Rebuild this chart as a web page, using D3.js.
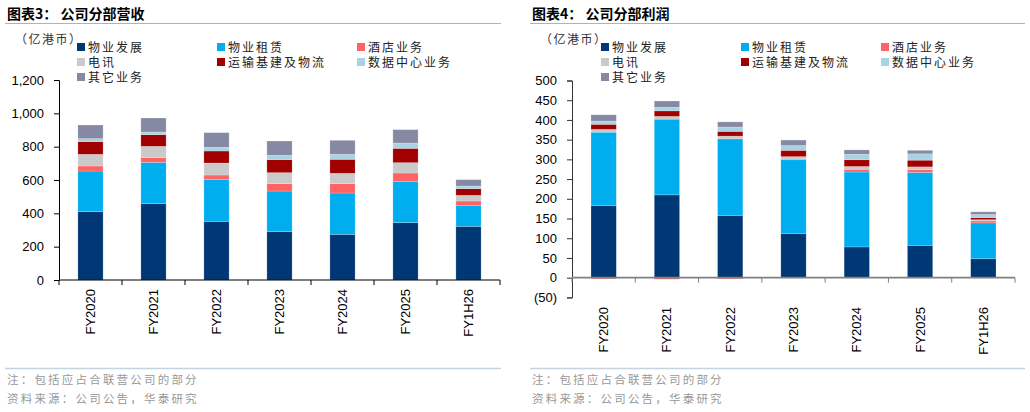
<!DOCTYPE html>
<html>
<head>
<meta charset="utf-8">
<script src="https://cdn.jsdelivr.net/npm/d3@7"></script>
<style>
  body { margin: 0; background: #fff; }
  svg { display: block; }
  .cn { font-family: "Noto Sans CJK SC", sans-serif; }
  .num { font-family: "Liberation Sans", Arial, sans-serif; }
</style>
</head>
<body>
<div id="chart"></div>
<script>
var categories = ["FY2020", "FY2021", "FY2022", "FY2023", "FY2024", "FY2025", "FY1H26"];
var seriesNames = ["物业发展", "物业租赁", "酒店业务", "电讯", "运输基建及物流", "数据中心业务", "其它业务"];
var seriesColors = ["#003876", "#00aeef", "#ff6464", "#cacaca", "#a00000", "#a9d3e3", "#8589a3"];

// 营收 (亿港币)
var revDev = [410, 458, 352, 290, 274, 344, 322];
var revRental = [244, 248, 250, 244, 248, 246, 124];
var revHotel = [30, 28, 28, 44, 56, 52, 28];
var revTelecom = [70, 68, 72, 66, 62, 62, 34];
var revTransport = [76, 70, 72, 78, 84, 86, 40];
var revDC = [18, 16, 22, 26, 30, 32, 16];
var revOther = [82, 84, 88, 86, 84, 80, 38];
var revTicks = [0, 200, 400, 600, 800, 1000, 1200];

// 利润 (亿港币)
var profDev = [183, 210, 158, 112, 78, 82, 48];
var profRental = [186, 192, 194, 187, 190, 185, 91];
var profHotel = [-3, -4, -3, 2, 7, 7, 5];
var profTelecom = [7, 7, 7, 6, 7, 7, 3];
var profTransport = [13, 14, 12, 16, 17, 17, 5];
var profDC = [8, 9, 11, 12, 14, 16, 8];
var profOther = [16, 16, 13, 14, 11, 9, 7];
var profTicks = [-50, 0, 50, 100, 150, 200, 250, 300, 350, 400, 450, 500];

var W = 1030, H = 412;
var svg = d3.select("#chart").append("svg")
	.attr("width", W)
	.attr("height", H);

function toRows(cols) {
	return categories.map(function(c, i) {
		var row = { cat: c };
		seriesNames.forEach(function(s, k) { row[s] = cols[k][i]; });
		return row;
	});
}

var drawChart = function(opt) {
	var g = svg.append("g").attr("transform", "translate(" + opt.ox + ",0)");

	/*---------------------------TITLE--------------------------*/
	g.append("text")
		.attr("class", "cn")
		.attr("x", opt.titleX)
		.attr("y", 19)
		.attr("font-size", 14)
		.attr("font-weight", "bold")
		.attr("fill", "#000")
		.text(opt.title);

	g.append("line")
		.attr("x1", opt.lineX1).attr("x2", opt.lineX2)
		.attr("y1", 23.5).attr("y2", 23.5)
		.attr("stroke", "#a3b5c9")
		.attr("stroke-width", 1);

	/*---------------------------UNIT + LEGEND--------------------------*/
	g.append("text")
		.attr("class", "cn")
		.attr("x", opt.unitX)
		.attr("y", 44)
		.attr("font-size", 12)
		.attr("letter-spacing", 1.5)
		.attr("fill", "#333")
		.text("（亿港币）");

	var legend = g.append("g");
	seriesNames.forEach(function(s, k) {
		var col = k % 3, row = Math.floor(k / 3);
		var lx = opt.legX + col * 140, ly = 47 + row * 15;
		legend.append("rect")
			.attr("x", lx).attr("y", ly - 4)
			.attr("width", 8).attr("height", 8)
			.attr("fill", seriesColors[k]);
		legend.append("text")
			.attr("class", "cn")
			.attr("x", lx + 11).attr("y", ly + 4.5)
			.attr("font-size", 12)
			.attr("letter-spacing", 2)
			.attr("fill", "#222")
			.text(s);
	});

	/*---------------------------SCALES--------------------------*/
	var x = d3.scaleBand()
		.domain(categories)
		.range([opt.x0, opt.x1])
		.paddingInner(0.6)
		.paddingOuter(0.3);

	var y = d3.scaleLinear()
		.domain(opt.domain)
		.range([opt.yBottom, opt.yTop]);

	var rows = toRows(opt.cols);
	var stack = d3.stack()
		.keys(seriesNames)
		.offset(d3.stackOffsetDiverging);
	var layers = stack(rows);

	/*---------------------------BARS--------------------------*/
	g.selectAll(".layer").data(layers).enter()
		.append("g")
		.attr("fill", function(d, i) { return seriesColors[i]; })
		.selectAll("rect")
		.data(function(d) { return d; })
		.enter()
		.append("rect")
		.attr("x", function(d) { return x(d.data.cat); })
		.attr("width", x.bandwidth())
		.attr("y", function(d) { return y(Math.max(d[0], d[1])); })
		.attr("height", function(d) { return Math.abs(y(d[0]) - y(d[1])); })
		.attr("stroke", "#fff")
		.attr("stroke-opacity", 0.35)
		.attr("stroke-width", 0.6);

	/*---------------------------Y AXIS--------------------------*/
	var yAxis = d3.axisLeft(y)
		.tickValues(opt.ticks)
		.tickSize(5)
		.tickPadding(10)
		.tickFormat(opt.fmt);

	var ya = g.append("g")
		.attr("transform", "translate(" + opt.x0 + ",0)")
		.call(yAxis);
	ya.select(".domain").attr("stroke", opt.yAxisColor);
	ya.selectAll(".tick line").attr("stroke", opt.yAxisColor);
	ya.selectAll("text")
		.attr("class", "num")
		.attr("font-size", 13)
		.attr("fill", "#000");

	/*---------------------------X AXIS--------------------------*/
	var zeroY = y(0);
	g.append("line")
		.attr("x1", opt.x0).attr("x2", opt.x1)
		.attr("y1", zeroY).attr("y2", zeroY)
		.attr("stroke", opt.xAxisColor)
		.attr("stroke-width", opt.xAxisWidth);

	var step = x.step();
	g.selectAll(".xtick").data(d3.range(categories.length + 1)).enter()
		.append("line")
		.attr("x1", function(i) { return opt.x0 + i * step; })
		.attr("x2", function(i) { return opt.x0 + i * step; })
		.attr("y1", zeroY)
		.attr("y2", zeroY + 5)
		.attr("stroke", opt.xAxisColor);

	g.selectAll(".xlab").data(categories).enter()
		.append("text")
		.attr("class", "num")
		.attr("font-size", 13)
		.attr("fill", "#000")
		.attr("text-anchor", "end")
		.attr("transform", function(d) {
			return "translate(" + (x(d) + x.bandwidth() / 2 + 4.5) + "," + opt.labelTop + ") rotate(-90)";
		})
		.text(function(d) { return d; });

	/*---------------------------FOOTER--------------------------*/
	g.append("line")
		.attr("x1", opt.lineX1).attr("x2", opt.lineX2)
		.attr("y1", 368.5).attr("y2", 368.5)
		.attr("stroke", "#c6d3e0")
		.attr("stroke-width", 1.5);

	g.append("text")
		.attr("class", "cn")
		.attr("x", opt.titleX).attr("y", 384)
		.attr("font-size", 11.5)
		.attr("letter-spacing", 2.2)
		.attr("fill", "#999")
		.text("注：包括应占合联营公司的部分");

	g.append("text")
		.attr("class", "cn")
		.attr("x", opt.titleX).attr("y", 403)
		.attr("font-size", 11.5)
		.attr("letter-spacing", 2.2)
		.attr("fill", "#999")
		.text("资料来源：公司公告，华泰研究");
};

drawChart({
	ox: 0,
	title: "图表3：  公司分部营收",
	titleX: 7, lineX1: 5, lineX2: 501,
	unitX: 15, legX: 77,
	x0: 59, x1: 500,
	yBottom: 280, yTop: 80,
	domain: [0, 1200],
	ticks: revTicks,
	fmt: d3.format(","),
	cols: [revDev, revRental, revHotel, revTelecom, revTransport, revDC, revOther],
	yAxisColor: "#000", xAxisColor: "#000", xAxisWidth: 1,
	labelTop: 289
});

drawChart({
	ox: 515,
	title: "图表4：  公司分部利润",
	titleX: 17, lineX1: 15, lineX2: 510,
	unitX: 25, legX: 86,
	x0: 57, x1: 500,
	yBottom: 297.4, yTop: 80.5,
	domain: [-50, 500],
	ticks: profTicks,
	fmt: function(d) { return d < 0 ? "(" + Math.abs(d) + ")" : d; },
	cols: [profDev, profRental, profHotel, profTelecom, profTransport, profDC, profOther],
	yAxisColor: "#333", xAxisColor: "#808080", xAxisWidth: 1.8,
	labelTop: 307
});
</script>
</body>
</html>
